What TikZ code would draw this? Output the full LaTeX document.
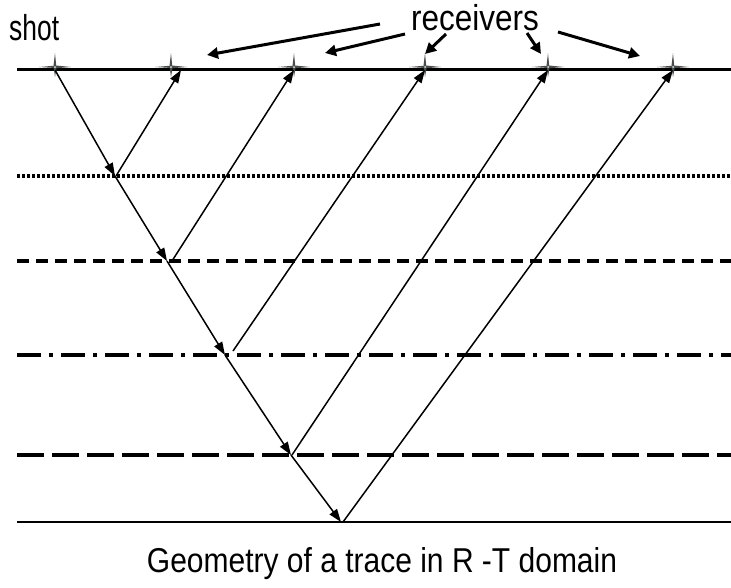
\documentclass[tikz,border=0pt]{standalone}
\usepackage{fontspec}
\setmainfont{Liberation Sans}
\usetikzlibrary{arrows.meta}
\begin{document}
\begin{tikzpicture}[x=1pt,y=-1pt,
  ray/.style={line width=1.5pt,-{Triangle[length=13pt,width=9pt]}},
  lbl/.style={font=\fontsize{30}{36}\selectfont, inner sep=0pt, anchor=base},
  layer/.style={line width=3.5pt},
  pointer/.style={line width=3pt,-{Triangle[length=11pt,width=11pt]}},
  starfill/.style={fill=black!70}
]
\useasboundingbox (0,0) rectangle (731,587);
% layer lines
\coordinate (L0a) at (17,69);  \coordinate (L0b) at (731,69);
\coordinate (L1a) at (17,176); \coordinate (L1b) at (731,176);
\coordinate (L2a) at (17,261); \coordinate (L2b) at (731,261);
\coordinate (L3a) at (17,355); \coordinate (L3b) at (731,355);
\coordinate (L4a) at (17,455); \coordinate (L4b) at (731,455);
\coordinate (L5a) at (17,522); \coordinate (L5b) at (731,522);
\draw[line width=3pt] (L0a) -- (L0b);
\draw[layer, dash pattern=on 3pt off 2pt] (L1a) -- (L1b);
\draw[layer, dash pattern=on 12pt off 7pt] (L2a) -- (L2b);
\draw[layer, dash pattern=on 24pt off 8pt on 4pt off 8pt] (L3a) -- (L3b);
\draw[layer, dash pattern=on 27pt off 8pt] (L4a) -- (L4b);
\draw[line width=2pt] (L5a) -- (L5b);
% shot and receivers
\coordinate (S) at (55,67);
\coordinate (R1) at (171,67);
\coordinate (R2) at (294,67);
\coordinate (R3) at (425,67);
\coordinate (R4) at (548,67);
\coordinate (R5) at (673,67);
\foreach \p in {S,R1,R2,R3,R4,R5}{
  \fill[starfill] (\p) ++(-16,0) -- ++(14.5,-1.2) -- ++(1.5,-12.8) -- ++(1.2,12.5) -- ++(14.8,1.5)
     -- ++(-14.5,1.2) -- ++(-1.5,9) -- ++(-1.2,-9.3) -- cycle;
  \fill[white!80!cyan] (\p) circle (1pt);
}
% downgoing ray
\coordinate (D1) at (115,176);
\coordinate (D2) at (167,261);
\coordinate (D3) at (225,355);
\coordinate (D4) at (291,455);
\coordinate (D5) at (341,522);
\coordinate (S0) at (55,70);
\draw[ray] (S0) -- (D1);
\draw[ray] (D1) -- (D2);
\draw[ray] (D2) -- (D3);
\draw[ray] (D3) -- (D4);
\draw[ray] (D4) -- (D5);
% upgoing rays
\coordinate (U1) at (116,176);
\coordinate (U2) at (172,261);
\coordinate (U3) at (233,351);
\coordinate (U4) at (292,455);
\coordinate (U5) at (343,522);
\coordinate (T1) at (181,70);
\coordinate (T2) at (294,70);
\coordinate (T3) at (425,70);
\coordinate (T4) at (548,70);
\coordinate (T5) at (673,70);
\draw[ray] (U1) -- (T1);
\draw[ray] (U2) -- (T2);
\draw[ray] (U3) -- (T3);
\draw[ray] (U4) -- (T4);
\draw[ray] (U5) -- (T5);
% labels
\node[lbl, anchor=base west] (shot) at (9,40) {\scalebox{0.88}[1.2]{shot}};
\node[lbl] (rcv) at (475,30) {\scalebox{1.05}[1.2]{receivers}};
\node[lbl] (cap) at (382,572) {\scalebox{1}[1.15]{Geometry of a trace in R -T domain}};
% pointers
\coordinate (P1s) at (380,24);  \coordinate (P1e) at (207,55);
\coordinate (P2s) at (405,34);  \coordinate (P2e) at (325,53);
\coordinate (P3s) at (446,34);  \coordinate (P3e) at (425,54);
\coordinate (P4s) at (527,33);  \coordinate (P4e) at (541,54);
\coordinate (P5s) at (558,32);  \coordinate (P5e) at (640,56);
\draw[pointer] (P1s) -- (P1e);
\draw[pointer] (P2s) -- (P2e);
\draw[pointer] (P3s) -- (P3e);
\draw[pointer] (P4s) -- (P4e);
\draw[pointer] (P5s) -- (P5e);
\end{tikzpicture}
\end{document}
